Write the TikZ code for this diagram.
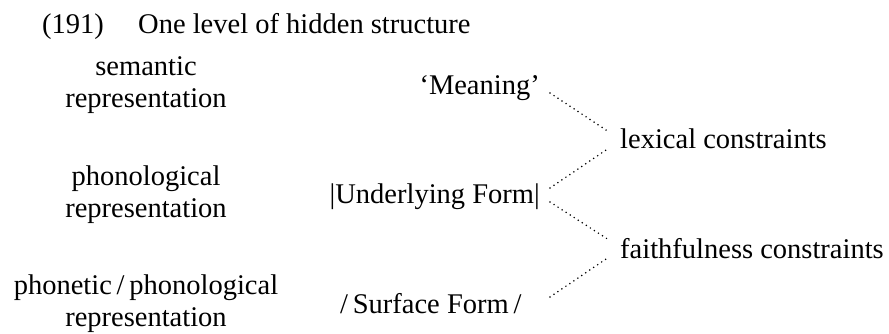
\documentclass[tikz,border=0pt]{standalone}
\usepackage{fontspec}
\setmainfont{Liberation Serif}
\usetikzlibrary{calc}
\begin{document}
\begin{tikzpicture}[x=1pt,y=-1pt,
  txt/.style={inner sep=0pt, font=\fontsize{28.5}{32}\selectfont},
  leftlbl/.style={txt, align=center, anchor=base},
  dotline/.style={line width=1.7pt, line cap=round, dash pattern=on 0pt off 4.8pt}]
\useasboundingbox (0,0) rectangle (889,334);
% title
\node[txt, anchor=base west] (num) at (42,34) {(191)};
\node[txt, anchor=base west] (title) at (138,34) {One level of hidden structure};
% left column (base = last line)
\node[leftlbl] (sem) at (146,108) {semantic\\representation};
\node[leftlbl] (phon) at (146,217) {phonological\\representation};
\node[leftlbl] (phnt) at (146,326) {phonetic\,/\,phonological\\representation};
% middle column
\node[txt, anchor=base east] (M) at (540,95) {‘Meaning’};
\node[txt, anchor=base east] (U) at (540,204) {|Underlying Form|};
\node[txt, anchor=base west] (S) at (340,313) {/\,Surface Form\,/};
% right column
\node[txt, anchor=base west] (L) at (620,149) {lexical constraints};
\node[txt, anchor=base west] (F) at (620,258) {faithfulness constraints};
% dotted connectors
\draw[dotline] ($(M.base east)+(10,-2)$) -- ($(L.base west)+(-11,-17)$);
\draw[dotline] ($(U.base east)+(10,-16)$) -- ($(L.base west)+(-11,-1)$);
\draw[dotline] ($(U.base east)+(10,-2)$) -- ($(F.base west)+(-11,-18)$);
\draw[dotline] ($(U.base east)+(10,93)$) -- ($(F.base west)+(-11,-1)$);
\end{tikzpicture}
\end{document}
